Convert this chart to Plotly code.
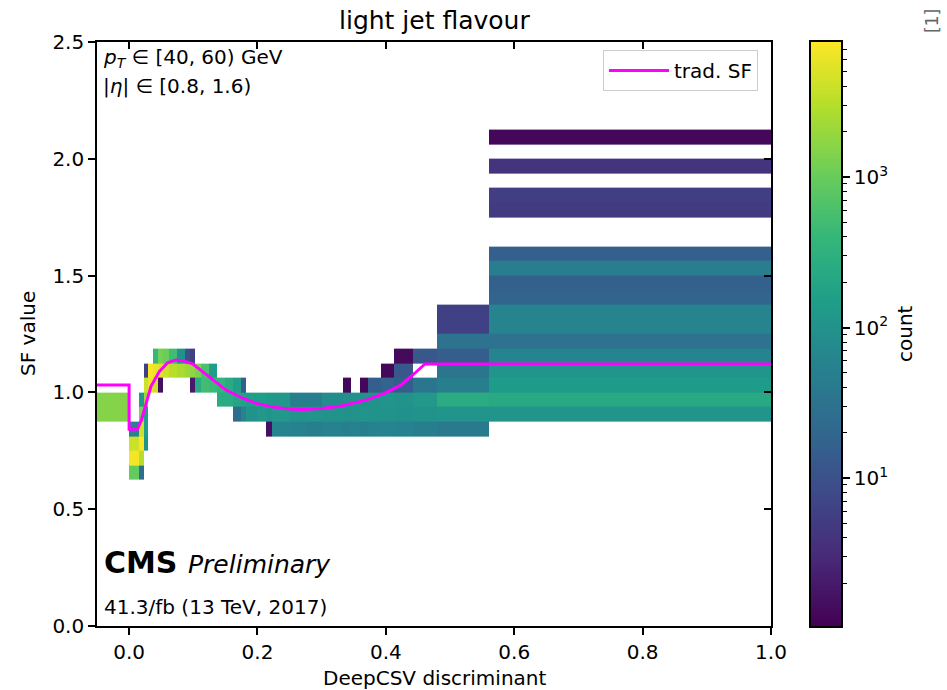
import numpy as np
import plotly.graph_objects as go

# ---------------------------------------------------------------
# Binning of the 2D histogram (DeepCSV discriminant vs SF value)
# ---------------------------------------------------------------
disc_edges = [-0.05, 0.0, 0.015, 0.0225, 0.03, 0.0375, 0.045, 0.0525, 0.0625, 0.075,
              0.0875, 0.095, 0.1025, 0.1125, 0.125, 0.1375, 0.15, 0.1625, 0.175, 0.1825,
              0.2, 0.2125, 0.2225, 0.25, 0.275, 0.3, 0.3325, 0.345, 0.36, 0.3725,
              0.3925, 0.4125, 0.4425, 0.48, 0.56, 1.0]

sf_edges = [0.625, 0.6875, 0.75, 0.8125, 0.875, 0.9375, 1.0, 1.0625, 1.125, 1.1875,
            1.25, 1.3125, 1.375, 1.4375, 1.5, 1.5625, 1.625, 1.6875, 1.75, 1.8125,
            1.875, 1.9375, 2.0, 2.0625, 2.125]

# Counts per SF row: {discriminant column index: count}
sf_0625 = {1: 900, 2: 25}
sf_0688 = {1: 7000, 2: 3000}
sf_0750 = {1: 4000, 2: 7500, 3: 100}
sf_0813 = {1: 60, 2: 4000, 3: 150,
           21: 1.5, 22: 60, 23: 55, 24: 50, 25: 55, 26: 50, 27: 55, 28: 50,
           29: 55, 30: 60, 31: 55, 32: 50, 33: 40}
sf_0875 = {0: 1500, 2: 1200, 3: 150,
           17: 25, 18: 60, 19: 100, 20: 120, 21: 110, 22: 120, 23: 100, 24: 110,
           25: 100, 26: 95, 27: 100, 28: 110, 29: 100, 30: 100, 31: 95, 32: 100,
           33: 110, 34: 110}
sf_0938 = {0: 1500, 2: 120, 3: 2000,
           15: 250, 16: 250, 17: 200, 18: 180, 19: 150, 20: 150, 21: 140, 22: 120,
           23: 50, 24: 45, 25: 80, 26: 90, 27: 100, 28: 90, 29: 100, 30: 110,
           31: 100, 32: 120, 33: 250, 34: 220}
sf_1000 = {3: 4000, 4: 6000, 5: 4000, 6: 1.5, 11: 2,
           12: 250, 13: 500, 14: 450, 15: 350, 16: 250, 17: 150, 18: 15,
           26: 1.2, 28: 1.2, 29: 15, 30: 18, 31: 15, 32: 35, 33: 50, 34: 140}
sf_1063 = {3: 6, 4: 7500, 5: 6000, 6: 5000, 7: 4000, 8: 3000, 9: 2500, 10: 2000,
           11: 1800, 12: 1300, 13: 600, 14: 150,
           30: 1.2, 31: 12, 33: 35, 34: 110}
sf_1125 = {5: 400, 6: 1200, 7: 1000, 8: 500, 9: 100, 10: 10, 11: 6,
           31: 1.3, 32: 12, 33: 15, 34: 60}
sf_1188 = {33: 30, 34: 30}
sf_1250 = {33: 6, 34: 60}
sf_1313 = {33: 6, 34: 60}
sf_1375 = {34: 18}
sf_1438 = {34: 16}
sf_1500 = {34: 45}
sf_1563 = {34: 16}
sf_1625 = {}
sf_1688 = {}
sf_1750 = {34: 5}
sf_1813 = {34: 5.5}
sf_1875 = {}
sf_1938 = {34: 4}
sf_2000 = {}
sf_2063 = {34: 1.2}

sf_rows = [sf_0625, sf_0688, sf_0750, sf_0813, sf_0875, sf_0938, sf_1000, sf_1063,
           sf_1125, sf_1188, sf_1250, sf_1313, sf_1375, sf_1438, sf_1500, sf_1563,
           sf_1625, sf_1688, sf_1750, sf_1813, sf_1875, sf_1938, sf_2000, sf_2063]

# Traditional scale factor curve
trad_x = [-0.05, 0.0, 0.0, 0.013, 0.019, 0.024, 0.03, 0.034, 0.047, 0.06, 0.073,
          0.085, 0.099, 0.112, 0.125, 0.151, 0.177, 0.198, 0.225, 0.25, 0.27, 0.3,
          0.33, 0.346, 0.37, 0.398, 0.424, 0.445, 0.461, 1.0]
trad_y = [1.032, 1.032, 0.842, 0.842, 0.88, 0.93, 0.99, 1.025, 1.089, 1.127, 1.139,
          1.135, 1.122, 1.095, 1.065, 1.01, 0.975, 0.953, 0.937, 0.929, 0.927, 0.931,
          0.942, 0.953, 0.968, 0.996, 1.032, 1.082, 1.122, 1.122]

# Colour range of the count axis (log scale)
count_min = 1.04
count_max = 7900
major_counts = [10, 100, 1000]
major_labels = ["10<sup>1</sup>", "10<sup>2</sup>", "10<sup>3</sup>"]
minor_counts = [2, 3, 4, 5, 6, 7, 8, 9,
                20, 30, 40, 50, 60, 70, 80, 90,
                200, 300, 400, 500, 600, 700, 800, 900,
                2000, 3000, 4000, 5000, 6000, 7000]

# ---------------------------------------------------------------
# Build the log10 count matrix
# ---------------------------------------------------------------
ncol = len(disc_edges) - 1
z = []
for row in sf_rows:
    line = [None] * ncol
    for c, v in row.items():
        line[c] = float(np.log10(v))
    z.append(line)

zmin = float(np.log10(count_min))
zmax = float(np.log10(count_max))

FONT = "DejaVu Sans"
W, H = 947, 690
ML, MR, MT, MB = 97, 106, 42, 64
plot_w = W - ML - MR
plot_h = H - MT - MB


def px_x(px):
    return (px - ML) / plot_w


def px_y(py):
    return (H - MB - py) / plot_h


main_dom = [0, px_x(771)]
cbar_dom = [px_x(811), 1.0]

fig = go.Figure()

fig.add_trace(go.Heatmap(
    x=disc_edges, y=sf_edges, z=z,
    colorscale="Viridis", zmin=zmin, zmax=zmax,
    showscale=False, hoverongaps=False, xgap=0, ygap=0,
    xaxis="x", yaxis="y",
))

fig.add_trace(go.Scatter(
    x=trad_x, y=trad_y, mode="lines", name="trad. SF",
    line=dict(color="#ff00ff", width=3),
    xaxis="x", yaxis="y",
))

# colour bar drawn as its own small heatmap on a log10 axis
ramp = np.linspace(zmin, zmax, 301)
fig.add_trace(go.Heatmap(
    x=[0, 1], y=ramp, z=[[v] for v in ramp[:-1]],
    colorscale="Viridis", zmin=zmin, zmax=zmax, showscale=False,
    xaxis="x2", yaxis="y2", hoverinfo="skip",
))

# helper trace for the inward ticks on the top and right frame
fig.add_trace(go.Scatter(x=[None], y=[None], xaxis="x3", yaxis="y3",
                         showlegend=False, hoverinfo="skip"))

tick_font = dict(family=FONT, size=20, color="black")
axis_common = dict(showline=True, linecolor="black", linewidth=1.6,
                   ticks="outside", ticklen=7, tickwidth=1.6, tickcolor="black",
                   showgrid=False, zeroline=False, tickfont=tick_font)

fig.update_layout(
    width=W, height=H,
    margin=dict(l=ML, r=MR, t=MT, b=MB),
    paper_bgcolor="white", plot_bgcolor="white",
    font=dict(family=FONT, size=20, color="black"),
    xaxis=dict(domain=main_dom, range=[-0.05, 1.0], anchor="y", mirror=True,
               tickvals=[0, 0.2, 0.4, 0.6, 0.8, 1.0],
               ticktext=["0.0", "0.2", "0.4", "0.6", "0.8", "1.0"], **axis_common),
    yaxis=dict(domain=[0, 1], range=[0, 2.5], anchor="x", mirror=True,
               tickvals=[0, 0.5, 1.0, 1.5, 2.0, 2.5],
               ticktext=["0.0", "0.5", "1.0", "1.5", "2.0", "2.5"], **axis_common),
    xaxis3=dict(domain=main_dom, range=[-0.05, 1.0], overlaying="x", side="top",
                anchor="y3", showline=False, showgrid=False, zeroline=False,
                tickvals=[0, 0.2, 0.4, 0.6, 0.8, 1.0], ticks="inside", ticklen=7,
                tickwidth=1.6, tickcolor="black", showticklabels=False),
    yaxis3=dict(domain=[0, 1], range=[0, 2.5], overlaying="y", side="right",
                anchor="x3", showline=False, showgrid=False, zeroline=False,
                tickvals=[0, 0.5, 1.0, 1.5, 2.0, 2.5], ticks="inside", ticklen=7,
                tickwidth=1.6, tickcolor="black", showticklabels=False),
    xaxis2=dict(domain=cbar_dom, range=[0, 1], anchor="y2", showline=True,
                mirror=True, linecolor="black", linewidth=1.6, ticks="",
                showticklabels=False, showgrid=False, zeroline=False),
    yaxis2=dict(domain=[0, 1], range=[zmin, zmax], anchor="x2", side="right",
                showline=True, mirror=True, linecolor="black", linewidth=1.6,
                ticks="outside", ticklen=7, tickwidth=1.6, tickcolor="black",
                tickvals=[float(np.log10(v)) for v in major_counts],
                ticktext=major_labels, tickfont=tick_font,
                showgrid=False, zeroline=False,
                minor=dict(tickmode="array",
                           tickvals=[float(np.log10(v)) for v in minor_counts],
                           ticks="outside", ticklen=4, tickwidth=1.2,
                           tickcolor="black", showgrid=False)),
    legend=dict(x=px_x(758), y=px_y(50), xanchor="right", yanchor="top",
                bgcolor="rgba(255,255,255,0.8)", bordercolor="#cccccc",
                borderwidth=1, font=dict(family=FONT, size=20),
                itemwidth=60, tracegroupgap=0),
    showlegend=True,
)

annotations = [
    dict(text="light jet flavour", x=px_x(434), y=px_y(21), xanchor="center",
         yanchor="middle", font=dict(size=25)),
    dict(text="DeepCSV discriminant", x=px_x(434), y=px_y(678), xanchor="center",
         yanchor="middle", font=dict(size=20)),
    dict(text="SF value", x=px_x(28), y=px_y(334), xanchor="center",
         yanchor="middle", textangle=-90, font=dict(size=20)),
    dict(text="count", x=px_x(905), y=px_y(334), xanchor="center",
         yanchor="middle", textangle=-90, font=dict(size=20)),
    dict(text="[1]", x=px_x(932), y=px_y(21), xanchor="center",
         yanchor="middle", textangle=-90, font=dict(size=17, color="#666666")),
    dict(text="<i>p</i><sub><i>T</i></sub> \u2208 [40, 60) GeV", x=px_x(101),
         y=px_y(58), xanchor="left", yanchor="middle", font=dict(size=20)),
    dict(text="|<i>\u03b7</i>| \u2208 [0.8, 1.6)", x=px_x(101), y=px_y(86),
         xanchor="left", yanchor="middle", font=dict(size=20)),
    dict(text="<b>CMS</b>", x=px_x(102), y=px_y(562), xanchor="left",
         yanchor="middle", font=dict(size=30)),
    dict(text="<i>Preliminary</i>", x=px_x(186), y=px_y(564), xanchor="left",
         yanchor="middle", font=dict(size=25)),
    dict(text="41.3/fb (13 TeV, 2017)", x=px_x(102), y=px_y(607), xanchor="left",
         yanchor="middle", font=dict(size=20)),
]
for a in annotations:
    a.update(xref="paper", yref="paper", showarrow=False)
    a["font"] = dict(family=FONT, color=a["font"].get("color", "black"),
                     size=a["font"]["size"])
fig.update_layout(annotations=annotations)

fig.write_html("out.html")
